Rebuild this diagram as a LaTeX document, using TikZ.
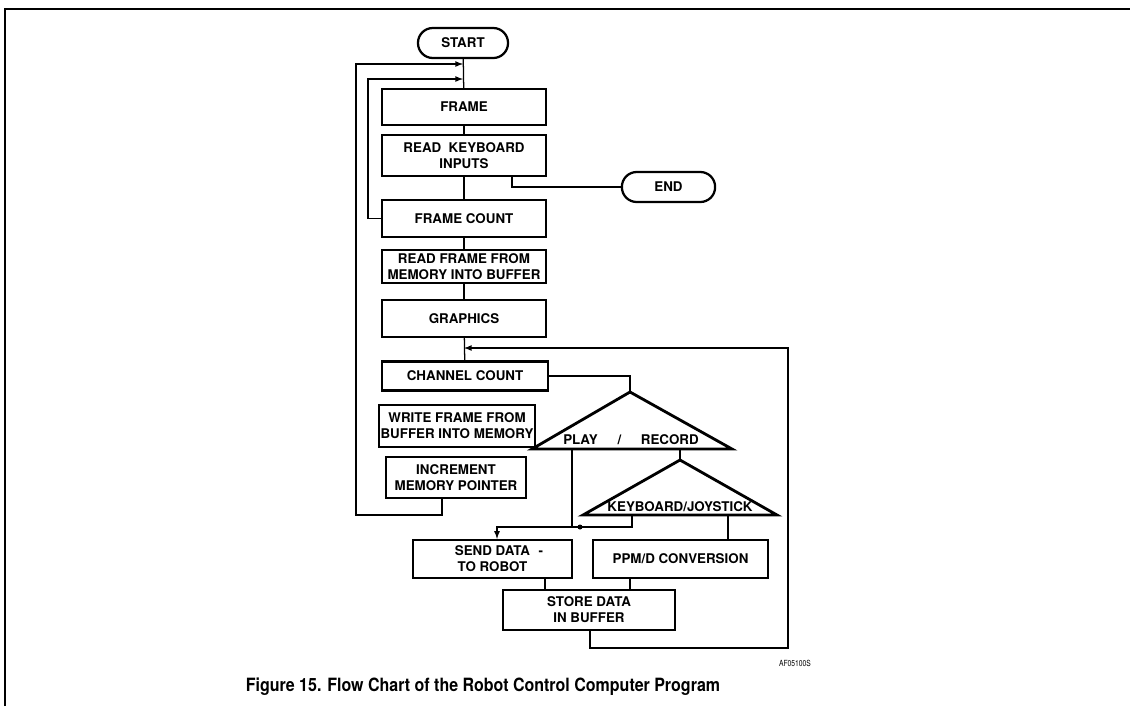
\documentclass[tikz,border=0pt]{standalone}
\usepackage{fontspec}
\usepackage{graphicx}
\setmainfont{TeX Gyre Heros}
\usetikzlibrary{arrows}

\tikzset{
    box/.style={draw, line width=1.6pt, align=center, inner sep=1pt,
        font=\bfseries\fontsize{9.5}{11.5}\selectfont},
    term/.style={box, rounded corners=0.37cm},
    tri/.style={line width=2pt, line join=miter},
    lbl/.style={inner sep=0pt, font=\bfseries\fontsize{9.5}{11.5}\selectfont},
    wire/.style={line width=0.9pt},
}

\begin{document}
\begin{tikzpicture}[x=0.025cm, y=-0.025cm]
    \useasboundingbox (0,0) rectangle (1130,706);
    % page frame
    \draw[line width=1.2pt] (5,706) -- (5,9) -- (1130,9);

    % main column
    \node[term, minimum width=2.25cm, minimum height=0.75cm] (start) at (463,43) {START};
    \node[box, minimum width=4.1cm, minimum height=0.9cm] (frame) at (464,107) {FRAME};
    \node[box, minimum width=4.1cm, minimum height=1.03cm] (readkb) at (464,155.5) {READ\ \ KEYBOARD\\INPUTS};
    \node[term, minimum width=2.33cm, minimum height=0.75cm] (end) at (668.5,187) {END};
    \node[box, minimum width=4.1cm, minimum height=0.93cm] (framecount) at (464,218.5) {FRAME COUNT};
    \node[box, minimum width=4.1cm, minimum height=0.83cm] (readframe) at (464,266.5) {READ FRAME FROM\\MEMORY INTO BUFFER};
    \node[box, minimum width=4.1cm, minimum height=0.93cm] (graphics) at (464,318.5) {GRAPHICS};
    \node[box, minimum width=4.15cm, minimum height=0.73cm] (chancount) at (465,376) {CHANNEL COUNT};
    \node[box, minimum width=3.6cm, minimum height=1.05cm] (writeframe) at (457,426) {WRITE FRAME FROM\\BUFFER INTO MEMORY};
    \node[box, minimum width=3.5cm, minimum height=1.03cm] (incmem) at (456,477.5) {INCREMENT\\MEMORY POINTER};

    % decision triangles
    \coordinate (pr top) at (630,392);
    \coordinate (pr left) at (532,449);
    \coordinate (pr right) at (732,449);
    \draw[tri] (pr top) -- (pr right) -- (pr left) -- cycle;
    \node[lbl] (playrec) at (631,440) {PLAY\hspace{14pt}/\hspace{14pt}RECORD};

    \coordinate (kj top) at (680,460);
    \coordinate (kj left) at (583,515);
    \coordinate (kj right) at (777,515);
    \draw[tri] (kj top) -- (kj right) -- (kj left) -- cycle;
    \node[lbl] (kbjoy) at (680,507) {KEYBOARD/JOYSTICK};

    % output boxes
    \node[box, minimum width=3.98cm, minimum height=0.95cm] (send) at (492.5,559) {SEND DATA\rlap{\hspace{6pt}-}\\TO ROBOT};
    \node[box, minimum width=4.38cm, minimum height=0.95cm] (ppmd) at (680.5,559) {PPM/D CONVERSION};
    \node[box, minimum width=4.3cm, minimum height=1cm] (store) at (589,610) {STORE DATA\\IN BUFFER};

    % flow lines
    \draw[wire] (start) -- (frame);
    \draw[wire] (frame) -- (readkb);
    \draw[wire] (readkb) -- (framecount);
    \draw[wire] (framecount) -- (readframe);
    \draw[wire] (readframe) -- (graphics);
    \draw[wire] (graphics) -- (chancount);
    \draw[wire] (readkb.south -| 512,0) |- (end.west);

    \draw[wire,-latex] (framecount.west) -| (368,79) -- (start.south |- 0,79);
    \draw[wire,-latex] (incmem.south -| 442,0) -- (442,515) -| (356,64) -- (start.south |- 0,64);

    \draw[wire] (chancount.east) -| (pr top);
    \draw[wire] (pr left -| 572,0) -- (572,527);
    \draw[wire] (pr left -| 680,0) -- (kj top);
    \draw[wire,-latex] (kj left -| 632,0) |- (497,527) -- (send.north -| 497,0);
    \fill (580,527) circle (2.5);
    \draw[wire] (kj left -| 728,0) -- (ppmd.north -| 728,0);
    \draw[wire] (send.south -| 545,0) -- (store.north -| 545,0);
    \draw[wire] (ppmd.south -| 630,0) -- (store.north -| 630,0);
    \draw[wire,-latex] (store.south -| 590,0) -- (590,648) -| (788,348) -- (graphics.south |- 0,348);

    % captions
    \node[inner sep=0pt, font=\fontsize{6}{7}\selectfont] (figid) at (795,663) {\scalebox{0.8}[1]{AF05100S}};
    \node[inner sep=0pt, font=\bfseries\fontsize{13}{15}\selectfont] (caption) at (483,687)
        {\scalebox{0.875}[1]{Figure 15. Flow Chart of the Robot Control Computer Program}};
\end{tikzpicture}
\end{document}
